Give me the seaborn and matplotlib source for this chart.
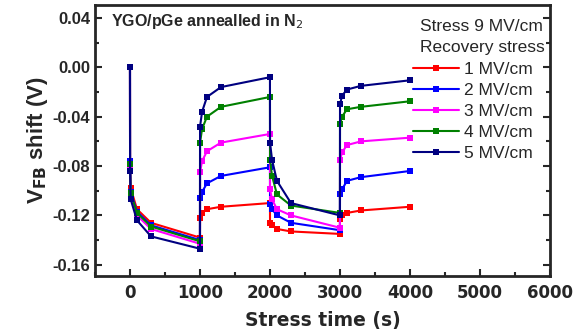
import pandas as pd
import matplotlib
matplotlib.use('Agg')
import matplotlib.pyplot as plt
import seaborn as sns
from matplotlib.ticker import MultipleLocator

# stress / recovery time points (s)
times = [0, 1, 10, 100, 300, 1000,
         1001, 1030, 1100, 1300, 2000,
         2001, 2030, 2100, 2300, 3000,
         3001, 3030, 3100, 3300, 4000]

labels = ['1 MV/cm', '2 MV/cm', '3 MV/cm', '4 MV/cm', '5 MV/cm']
colors = ['#ff0000', '#0000ff', '#ff00ff', '#008000', '#000080']

vfb_1 = [0, -0.079, -0.098, -0.115, -0.126, -0.138,
         -0.122, -0.118, -0.115, -0.113, -0.110,
         -0.126, -0.128, -0.131, -0.133, -0.135,
         -0.123, -0.120, -0.118, -0.116, -0.113]
vfb_2 = [0, -0.076, -0.101, -0.117, -0.128, -0.140,
         -0.106, -0.101, -0.094, -0.088, -0.081,
         -0.111, -0.115, -0.120, -0.126, -0.132,
         -0.103, -0.099, -0.092, -0.089, -0.084]
vfb_3 = [0, -0.080, -0.103, -0.120, -0.131, -0.143,
         -0.085, -0.076, -0.068, -0.061, -0.054,
         -0.099, -0.107, -0.115, -0.120, -0.130,
         -0.075, -0.069, -0.063, -0.060, -0.057]
vfb_4 = [0, -0.078, -0.102, -0.118, -0.129, -0.141,
         -0.061, -0.050, -0.040, -0.032, -0.024,
         -0.075, -0.088, -0.103, -0.112, -0.118,
         -0.046, -0.040, -0.034, -0.032, -0.0275]
vfb_5 = [0, -0.084, -0.107, -0.124, -0.137, -0.147,
         -0.048, -0.036, -0.024, -0.016, -0.008,
         -0.061, -0.075, -0.092, -0.110, -0.120,
         -0.030, -0.023, -0.018, -0.015, -0.0105]

series = [vfb_1, vfb_2, vfb_3, vfb_4, vfb_5]
frames = []
for lab, vals in zip(labels, series):
    frames.append(pd.DataFrame({'time': times, 'shift': vals, 'stress': lab}))
data = pd.concat(frames, ignore_index=True)

sns.set_style('ticks')
plt.rcParams['font.family'] = ['Liberation Sans', 'DejaVu Sans']

fig = plt.figure(figsize=(5.74, 3.36), dpi=100)
ax = fig.add_axes([0.1655, 0.179, 0.7925, 0.806])

sns.lineplot(data=data, x='time', y='shift', hue='stress', palette=colors,
             marker='s', markersize=5, markeredgewidth=0, linewidth=1.5,
             errorbar=None, ax=ax)

ax.set_xlim(-500, 6000)
ax.set_ylim(-0.169, 0.0505)
ax.xaxis.set_major_locator(MultipleLocator(1000))
ax.xaxis.set_minor_locator(MultipleLocator(500))
ax.yaxis.set_major_locator(MultipleLocator(0.04))
ax.yaxis.set_minor_locator(MultipleLocator(0.02))
ax.yaxis.set_major_formatter(plt.FuncFormatter(lambda v, p: '%.2f' % v))
ax.tick_params(which='both', direction='in', left=True, right=True, bottom=True, top=False,
               width=1.5)
ax.tick_params(which='major', length=5, labelsize=12)
ax.tick_params(which='minor', length=3)
ax.tick_params(axis='x', pad=6)
for t in ax.get_yticklabels():
    t.set_fontweight('bold')
for t in ax.get_xticklabels():
    t.set_fontweight('bold')
    t.set_family('DejaVu Sans')
for s in ax.spines.values():
    s.set_linewidth(2)
    s.set_visible(True)

ax.set_xlabel('Stress time (s)', fontsize=13.5, fontweight='bold', family='DejaVu Sans',
              labelpad=6)
ax.set_ylabel('V$_{\\mathbf{FB}}$ shift (V)', fontsize=16, fontweight='bold', labelpad=2)

ax.text(0.035, 0.975, 'YGO/pGe annealled in N$_2$', transform=ax.transAxes,
        fontsize=11.5, fontweight='bold', va='top')
ax.text(0.715, 0.95, 'Stress 9 MV/cm', transform=ax.transAxes, fontsize=12.5,
        va='top', clip_on=True)
ax.text(0.715, 0.87, 'Recovery stress', transform=ax.transAxes, fontsize=12.5,
        va='top', clip_on=True)

ax.legend(loc='upper left', bbox_to_anchor=(0.7, 0.79), frameon=False,
          fontsize=12.5, handlelength=2.6, handletextpad=0.3, labelspacing=0.33,
          borderpad=0, borderaxespad=0)

fig.savefig('out.png', dpi=100)
